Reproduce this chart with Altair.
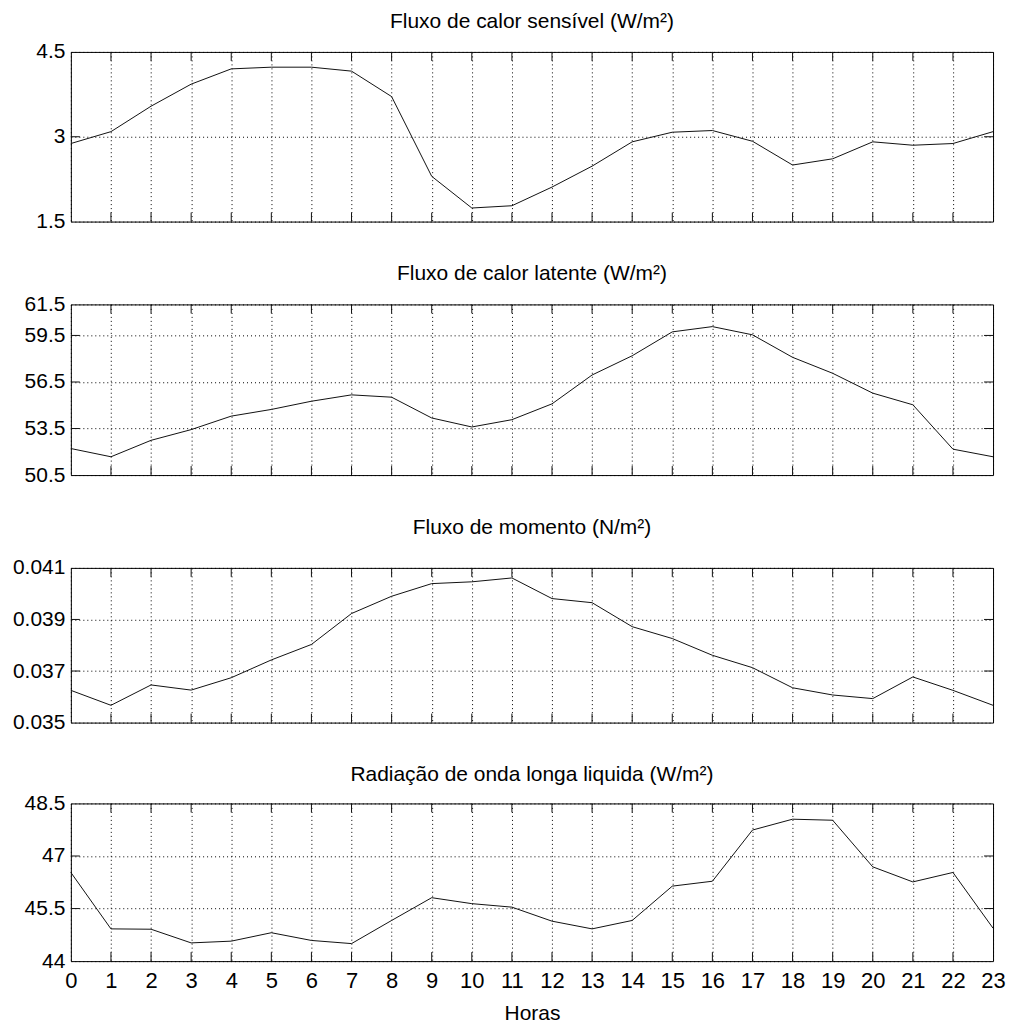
import altair as alt
import pandas as pd

# Hourly means (0-23 h) of surface fluxes
hours = list(range(24))

sensible_heat = [2.88, 3.09, 3.54, 3.93, 4.20, 4.23, 4.23, 4.16, 3.71, 2.30, 1.74, 1.78,
                 2.11, 2.48, 2.91, 3.08, 3.11, 2.92, 2.50, 2.61, 2.91, 2.85, 2.88, 3.09]

latent_heat = [52.21, 51.68, 52.74, 53.43, 54.30, 54.73, 55.26, 55.67, 55.52, 54.18, 53.60, 54.07,
               55.09, 56.95, 58.19, 59.73, 60.07, 59.54, 58.09, 57.06, 55.78, 55.03, 52.17, 51.68]

momentum_flux = [0.03625, 0.03567, 0.03646, 0.03626, 0.03674, 0.03743, 0.03803, 0.03923,
                 0.03990, 0.04039, 0.04046, 0.04061, 0.03981, 0.03965, 0.03872, 0.03826,
                 0.03761, 0.03713, 0.03635, 0.03607, 0.03593, 0.03677, 0.03625, 0.03567]

longwave_net = [46.53, 44.92, 44.91, 44.52, 44.57, 44.81, 44.59, 44.50, 45.16, 45.81, 45.64, 45.54,
                45.14, 44.92, 45.16, 46.14, 46.28, 47.74, 48.05, 48.02, 46.69, 46.26, 46.53, 44.94]

titles = [
    "Fluxo de calor sensível (W/m²)",
    "Fluxo de calor latente (W/m²)",
    "Fluxo de momento (N/m²)",
    "Radiação de onda longa liquida (W/m²)",
]
y_domains = [[1.5, 4.5], [50.5, 61.5], [0.035, 0.041], [44, 48.5]]
y_ticks = [
    [1.5, 3, 4.5],
    [50.5, 53.5, 56.5, 59.5, 61.5],
    [0.035, 0.037, 0.039, 0.041],
    [44, 45.5, 47, 48.5],
]

W = 924
HEIGHTS = [170, 171, 155, 158]
TITLE_OFFSETS = [9, 9, 19, 7]
TICK = 9
FONT = "Liberation Sans"
INK = "#111111"


def panel(values, title, y_dom, y_vals, height, offset, bottom_axis):
    line_df = pd.DataFrame({"hora": hours, "valor": values})
    xtick_df = pd.DataFrame({"hora": hours[1:-1]})
    ytick_df = pd.DataFrame({"valor": [v for v in y_vals if y_dom[0] < v < y_dom[1]]})

    if bottom_axis:
        x_axis = alt.Axis(values=hours, grid=True, gridDash=[1, 3], gridColor="#000",
                          gridOpacity=1, ticks=False, domain=False, labels=True,
                          labelFlush=False, labelFontSize=22, labelPadding=9,
                          labelColor="#000", title="Horas", titleFontSize=21,
                          titleFontWeight="normal", titlePadding=11, titleColor="#000",
                          labelFont=FONT, titleFont=FONT)
    else:
        x_axis = alt.Axis(values=hours, grid=True, gridDash=[1, 3], gridColor="#000",
                          gridOpacity=1, ticks=False, domain=False, labels=False, title=None)

    x_scale = alt.Scale(domain=[0, 23], nice=False, zero=False)
    y_scale = alt.Scale(domain=y_dom, nice=False, zero=False)

    x_enc = alt.X("hora:Q", scale=x_scale, axis=x_axis)
    y_enc = alt.Y("valor:Q", scale=y_scale,
                  axis=alt.Axis(values=y_vals, labelExpr="'' + datum.value", grid=True,
                                gridDash=[1, 3], gridColor="#000", gridOpacity=1,
                                ticks=False, domain=False, labelFontSize=21, labelPadding=6,
                                labelColor="#000", labelFont=FONT, title=None))

    line = alt.Chart(line_df).mark_line(color=INK, strokeWidth=1).encode(x=x_enc, y=y_enc)

    # short inward tick marks on all four sides of the frame
    top_ticks = alt.Chart(xtick_df).mark_rule(color=INK, strokeWidth=1).encode(
        x=x_enc, y=alt.value(0), y2=alt.value(TICK))
    bottom_ticks = alt.Chart(xtick_df).mark_rule(color=INK, strokeWidth=1).encode(
        x=x_enc, y=alt.value(height), y2=alt.value(height - TICK))
    left_ticks = alt.Chart(ytick_df).mark_rule(color=INK, strokeWidth=1).encode(
        y=y_enc, x=alt.value(0), x2=alt.value(TICK))
    right_ticks = alt.Chart(ytick_df).mark_rule(color=INK, strokeWidth=1).encode(
        y=y_enc, x=alt.value(W), x2=alt.value(W - TICK))

    return alt.layer(line, top_ticks, bottom_ticks, left_ticks, right_ticks).properties(
        width=W, height=height,
        title=alt.TitleParams(title, fontSize=21, font=FONT, fontWeight="normal",
                              color="#000", anchor="middle", offset=offset),
    )


series = [sensible_heat, latent_heat, momentum_flux, longwave_net]
panels = [
    panel(series[i], titles[i], y_domains[i], y_ticks[i], HEIGHTS[i], TITLE_OFFSETS[i], i == 3)
    for i in range(4)
]

chart = alt.vconcat(*panels, spacing=30).properties(
    padding={"left": 11, "top": 9, "right": 8, "bottom": 0},
    background="white",
).configure_view(
    stroke="#000", strokeWidth=1
)

chart.save("out.html", embed_options={"renderer": "svg", "actions": False})
